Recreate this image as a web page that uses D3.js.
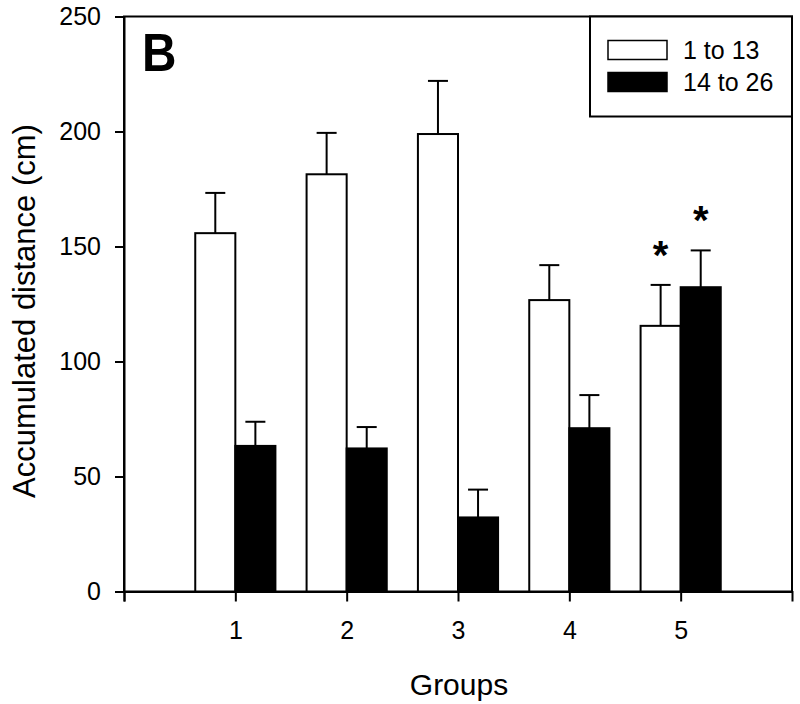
<!DOCTYPE html>
<html><head><meta charset="utf-8">
<script src="https://cdn.jsdelivr.net/npm/d3@7"></script>
<style>body{margin:0;background:#fff}svg{display:block}text{font-family:"Liberation Sans",Arial,sans-serif;fill:#000}</style>
</head><body><svg id="c" width="800" height="704"></svg>
<script>
const groups = [1, 2, 3, 4, 5];
const seriesNames = ["1 to 13", "14 to 26"];
const early = [155.8, 181.4, 198.9, 126.7, 115.5];
const earlyErr = [17.5, 18.0, 23.1, 15.2, 17.8];
const late = [63.3, 62.2, 32.2, 71.0, 132.3];
const lateErr = [10.5, 9.3, 12.1, 14.4, 16.0];
const earlyStar = [false, false, false, false, true];
const lateStar = [false, false, false, false, true];
const yTicks = [0, 50, 100, 150, 200, 250];
const xTicks = [0, 1, 2, 3, 4, 5];

const svg = d3.select("#c");
const L = 124, R = 792, T = 16.5, B = 591.5;
const x = d3.scaleLinear().domain([0, 6]).range([L, R]);
const y = d3.scaleLinear().domain([0, 250]).range([B, T]);
const bw = x(0.36) - x(0);

const g = svg.append("g");
// frame
g.append("rect").attr("x", L).attr("y", T).attr("width", R - L).attr("height", B - T)
  .attr("fill", "none").attr("stroke", "#000").attr("stroke-width", 2);

// y axis
const ya = g.append("g").attr("transform", `translate(${L},0)`)
  .call(d3.axisLeft(y).tickValues(yTicks).tickSize(9).tickPadding(14).tickFormat(d3.format("d")));
ya.select(".domain").attr("stroke-width", 2);
ya.selectAll(".tick line").attr("stroke-width", 2);
ya.selectAll("text").attr("font-size", 25).attr("font-family", "Liberation Sans, Arial, sans-serif").attr("fill", "#000");

// x axis
const xa = g.append("g").attr("transform", `translate(0,${B})`)
  .call(d3.axisBottom(x).tickValues(xTicks).tickSize(10).tickPadding(20)
    .tickFormat(d => d === 0 ? "" : d));
xa.select(".domain").attr("stroke-width", 2);
xa.selectAll(".tick line").attr("stroke-width", 2);
xa.selectAll("text").attr("font-size", 25).attr("font-family", "Liberation Sans, Arial, sans-serif").attr("fill", "#000");

// error bars (drawn before bars so bars cover stems)
function errBars(vals, errs, off) {
  groups.forEach((gr, i) => {
    const cx = x(gr) + off * bw;
    g.append("line").attr("x1", cx).attr("x2", cx).attr("y1", y(vals[i])).attr("y2", y(vals[i] + errs[i]))
      .attr("stroke", "#000").attr("stroke-width", 2);
    g.append("line").attr("x1", cx - 10).attr("x2", cx + 10).attr("y1", y(vals[i] + errs[i])).attr("y2", y(vals[i] + errs[i]))
      .attr("stroke", "#000").attr("stroke-width", 2);
  });
}
errBars(early, earlyErr, -0.5);
errBars(late, lateErr, 0.5);

// bars
g.selectAll(".b1").data(groups).join("rect").attr("class", "b1")
  .attr("x", d => x(d) - bw).attr("width", bw)
  .attr("y", (d, i) => y(early[i])).attr("height", (d, i) => B - y(early[i]))
  .attr("fill", "#fff").attr("stroke", "#000").attr("stroke-width", 2);
g.selectAll(".b2").data(groups).join("rect").attr("class", "b2")
  .attr("x", d => x(d)).attr("width", bw)
  .attr("y", (d, i) => y(late[i])).attr("height", (d, i) => B - y(late[i]))
  .attr("fill", "#000").attr("stroke", "#000").attr("stroke-width", 2);

// stars
function stars(flags, vals, errs, off) {
  groups.forEach((gr, i) => {
    if (!flags[i]) return;
    g.append("text").attr("x", x(gr) + off * bw).attr("y", y(vals[i] + errs[i]) - 16)
      .attr("text-anchor", "middle").attr("font-size", 40).attr("font-weight", "bold").text("*");
  });
}
stars(earlyStar, early, earlyErr, -0.5);
stars(lateStar, late, lateErr, 0.5);

// panel label
g.append("text").attr("transform", "translate(142,71) scale(0.9,1)").attr("font-size", 53).attr("font-weight", "bold").text("B");

// legend
g.append("rect").attr("x", 590).attr("y", T).attr("width", R - 590).attr("height", 100)
  .attr("fill", "#fff").attr("stroke", "#000").attr("stroke-width", 2);
const lg = [{ fill: "#fff", y: 40.5 }, { fill: "#000", y: 72.5 }];
lg.forEach((d, i) => {
  g.append("rect").attr("x", 608).attr("y", d.y).attr("width", 59).attr("height", 19)
    .attr("fill", d.fill).attr("stroke", "#000").attr("stroke-width", 1.5);
  g.append("text").attr("x", 683).attr("y", d.y + 18).attr("font-size", 25).text(seriesNames[i]);
});

// axis titles
g.append("text").attr("x", 459).attr("y", 695).attr("text-anchor", "middle").attr("font-size", 30).text("Groups");
g.append("text").attr("transform", "translate(35,311) rotate(-90)").attr("text-anchor", "middle")
  .attr("font-size", 31).text("Accumulated distance (cm)");
</script></body></html>
